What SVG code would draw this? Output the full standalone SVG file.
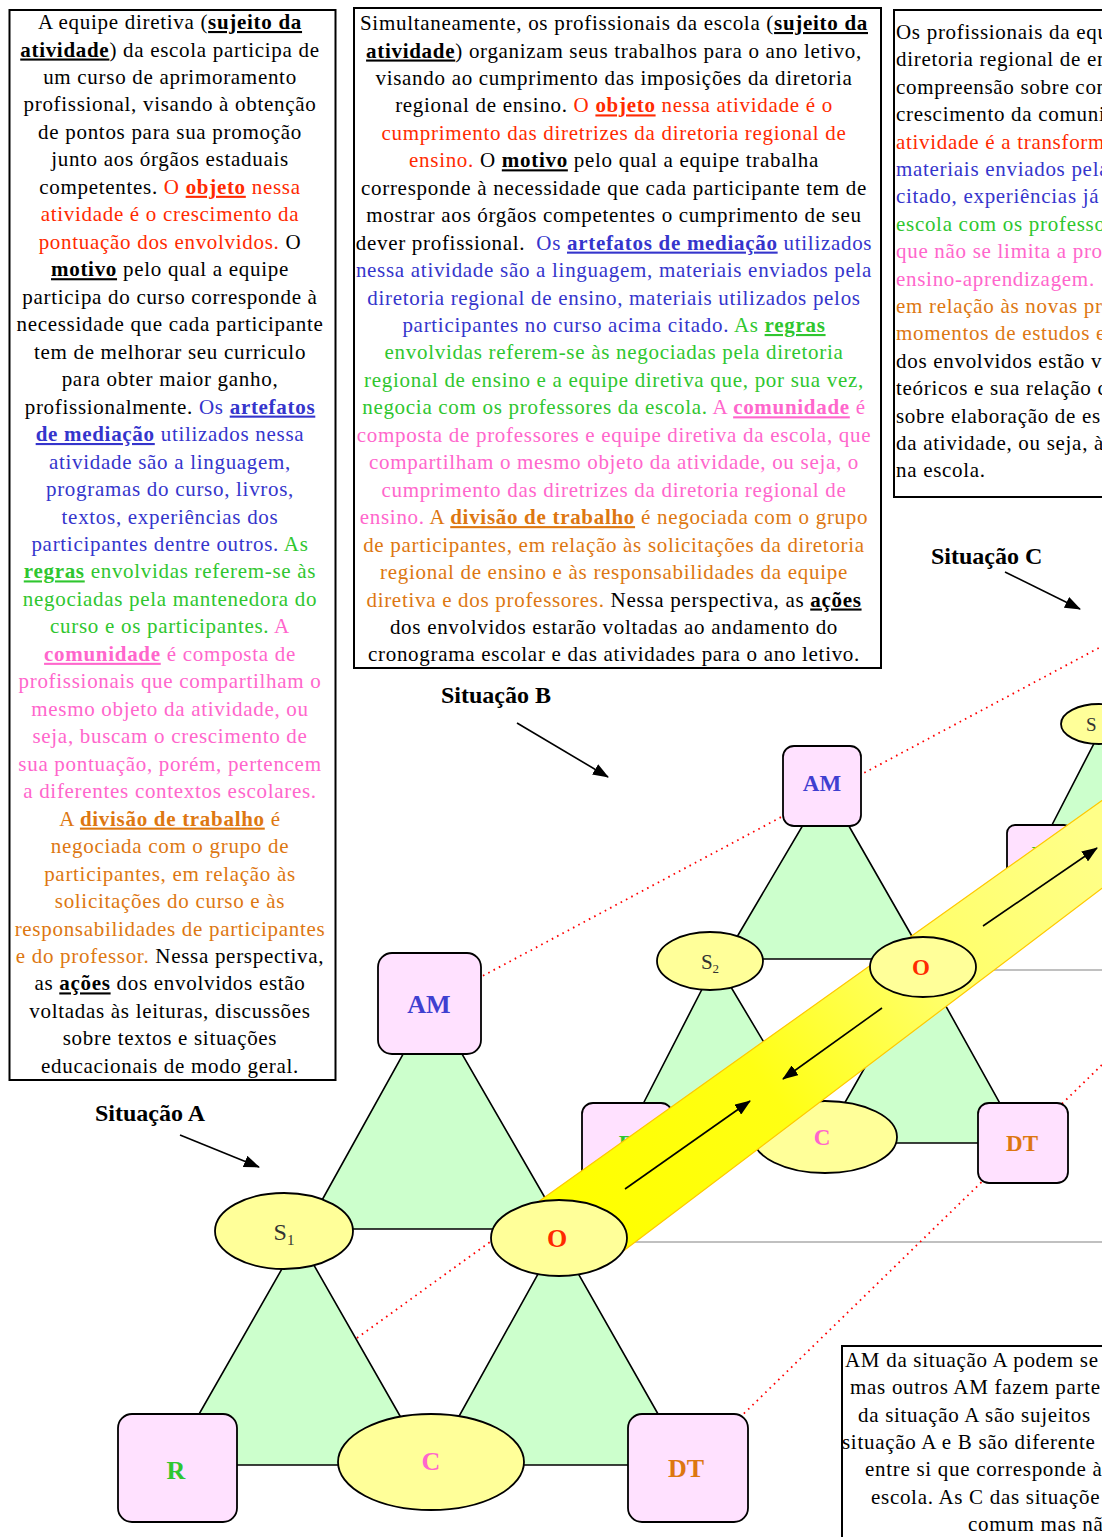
<svg xmlns="http://www.w3.org/2000/svg" width="1102" height="1537" viewBox="0 0 1102 1537">
<defs>
<style>
.t{font-family:"Liberation Serif","Times New Roman",serif;font-size:21px;letter-spacing:0.7px;fill:#000}
.m{text-anchor:middle}
.u{font-weight:bold;text-decoration:underline}
.r{fill:#FF2A00}.bl{fill:#3535CC}.g{fill:#2FC62F}.p{fill:#FF66CC}.o{fill:#DD7711}
.box{fill:#fff;stroke:#000;stroke-width:2}
.tri{fill:#CCFFCC;stroke:#000;stroke-width:1.6;stroke-linejoin:round}
.sq{fill:#FFE1FF;stroke:#000;stroke-width:1.8}
.el{fill:#FFFF99;stroke:#000;stroke-width:1.8}
.dot{stroke:#FF0000;stroke-width:1.8;stroke-dasharray:1.6 4.4;fill:none}
.gray{stroke:#C0C0C0;stroke-width:2}
.nl{font-family:"Liberation Serif","Times New Roman",serif;font-weight:bold;text-anchor:middle}
.sit{font-family:"Liberation Serif","Times New Roman",serif;font-weight:bold;font-size:24px;fill:#000}
.arr{stroke:#000;stroke-width:1.6;fill:none;marker-end:url(#ah)}
.band{fill:url(#bandg);stroke:#FFC800;stroke-width:1.2}
</style>
<marker id="ah" markerUnits="userSpaceOnUse" markerWidth="16" markerHeight="12" refX="15" refY="6" orient="auto" viewBox="0 0 16 12"><path d="M0,0 L16,6 L0,12 z" fill="#000"/></marker>
<linearGradient id="bandg" gradientUnits="userSpaceOnUse" x1="600" y1="1230" x2="1100" y2="850">
<stop offset="0" stop-color="#FFFF00"/><stop offset="0.35" stop-color="#FFFF14"/><stop offset="0.65" stop-color="#FFFF66"/><stop offset="1" stop-color="#FFFF88"/>
</linearGradient>
</defs>
<rect width="1102" height="1537" fill="#fff"/>

<g id="box-A">
<rect class="box" x="9.5" y="10" width="326" height="1070"/>
<text class="t m" x="170" y="29">A equipe diretiva (<tspan class="u">sujeito da</tspan></text>
<text class="t m" x="170" y="56.5"><tspan class="u">atividade</tspan>) da escola participa de</text>
<text class="t m" x="170" y="84">um curso de aprimoramento</text>
<text class="t m" x="170" y="111.4">profissional, visando à obtenção</text>
<text class="t m" x="170" y="138.9">de pontos para sua promoção</text>
<text class="t m" x="170" y="166.4">junto aos órgãos estaduais</text>
<text class="t m" x="170" y="193.8">competentes. <tspan class="r">O </tspan><tspan class="r u">objeto</tspan><tspan class="r"> nessa</tspan></text>
<text class="t m r" x="170" y="221.3">atividade é o crescimento da</text>
<text class="t m" x="170" y="248.8"><tspan class="r">pontuação dos envolvidos. </tspan>O</text>
<text class="t m" x="170" y="276.2"><tspan class="u">motivo</tspan> pelo qual a equipe</text>
<text class="t m" x="170" y="303.7">participa do curso corresponde à</text>
<text class="t m" x="170" y="331.2">necessidade que cada participante</text>
<text class="t m" x="170" y="358.6">tem de melhorar seu curriculo</text>
<text class="t m" x="170" y="386.1">para obter maior ganho,</text>
<text class="t m" x="170" y="413.6">profissionalmente. <tspan class="bl">Os </tspan><tspan class="bl u">artefatos</tspan></text>
<text class="t m bl" x="170" y="441"><tspan class="u">de mediação</tspan> utilizados nessa</text>
<text class="t m bl" x="170" y="468.5">atividade são a linguagem,</text>
<text class="t m bl" x="170" y="496">programas do curso, livros,</text>
<text class="t m bl" x="170" y="523.5">textos, experiências dos</text>
<text class="t m bl" x="170" y="550.9">participantes dentre outros. <tspan class="g">As</tspan></text>
<text class="t m g" x="170" y="578.4"><tspan class="u">regras</tspan> envolvidas referem-se às</text>
<text class="t m g" x="170" y="605.9">negociadas pela mantenedora do</text>
<text class="t m g" x="170" y="633.3">curso e os participantes. <tspan class="p">A</tspan></text>
<text class="t m p" x="170" y="660.8"><tspan class="u">comunidade</tspan> é composta de</text>
<text class="t m p" x="170" y="688.3">profissionais que compartilham o</text>
<text class="t m p" x="170" y="715.8">mesmo objeto da atividade, ou</text>
<text class="t m p" x="170" y="743.2">seja, buscam o crescimento de</text>
<text class="t m p" x="170" y="770.7">sua pontuação, porém, pertencem</text>
<text class="t m p" x="170" y="798.2">a diferentes contextos escolares.</text>
<text class="t m o" x="170" y="825.6">A <tspan class="u">divisão de trabalho</tspan> é</text>
<text class="t m o" x="170" y="853.1">negociada com o grupo de</text>
<text class="t m o" x="170" y="880.6">participantes, em relação às</text>
<text class="t m o" x="170" y="908">solicitações do curso e às</text>
<text class="t m o" x="170" y="935.5">responsabilidades de participantes</text>
<text class="t m" x="170" y="963"><tspan class="o">e do professor. </tspan>Nessa perspectiva,</text>
<text class="t m" x="170" y="990.4">as <tspan class="u">ações</tspan> dos envolvidos estão</text>
<text class="t m" x="170" y="1017.9">voltadas às leituras, discussões</text>
<text class="t m" x="170" y="1045.4">sobre textos e situações</text>
<text class="t m" x="170" y="1072.9">educacionais de modo geral.</text>
</g>

<g id="box-B">
<rect class="box" x="354" y="8" width="527" height="660"/>
<text class="t m" x="614" y="30">Simultaneamente, os profissionais da escola (<tspan class="u">sujeito da</tspan></text>
<text class="t m" x="614" y="57.5"><tspan class="u">atividade</tspan>) organizam seus trabalhos para o ano letivo,</text>
<text class="t m" x="614" y="84.9">visando ao cumprimento das imposições da diretoria</text>
<text class="t m" x="614" y="112.4">regional de ensino. <tspan class="r">O </tspan><tspan class="r u">objeto</tspan><tspan class="r"> nessa atividade é o</tspan></text>
<text class="t m r" x="614" y="139.8">cumprimento das diretrizes da diretoria regional de</text>
<text class="t m" x="614" y="167.3"><tspan class="r">ensino. </tspan>O <tspan class="u">motivo</tspan> pelo qual a equipe trabalha</text>
<text class="t m" x="614" y="194.7">corresponde à necessidade que cada participante tem de</text>
<text class="t m" x="614" y="222.2">mostrar aos órgãos competentes o cumprimento de seu</text>
<text class="t m" x="614" y="249.6">dever profissional. <tspan class="bl" dx="5">Os </tspan><tspan class="bl u">artefatos de mediação</tspan><tspan class="bl"> utilizados</tspan></text>
<text class="t m bl" x="614" y="277.1">nessa atividade são a linguagem, materiais enviados pela</text>
<text class="t m bl" x="614" y="304.5">diretoria regional de ensino, materiais utilizados pelos</text>
<text class="t m bl" x="614" y="332">participantes no curso acima citado. <tspan class="g">As </tspan><tspan class="g u">regras</tspan></text>
<text class="t m g" x="614" y="359.4">envolvidas referem-se às negociadas pela diretoria</text>
<text class="t m g" x="614" y="386.9">regional de ensino e a equipe diretiva que, por sua vez,</text>
<text class="t m g" x="614" y="414.3">negocia com os professores da escola. <tspan class="p">A </tspan><tspan class="p u">comunidade</tspan><tspan class="p"> é</tspan></text>
<text class="t m p" x="614" y="441.8">composta de professores e equipe diretiva da escola, que</text>
<text class="t m p" x="614" y="469.2">compartilham o mesmo objeto da atividade, ou seja, o</text>
<text class="t m p" x="614" y="496.7">cumprimento das diretrizes da diretoria regional de</text>
<text class="t m p" x="614" y="524.1">ensino. <tspan class="o">A </tspan><tspan class="o u">divisão de trabalho</tspan><tspan class="o"> é negociada com o grupo</tspan></text>
<text class="t m o" x="614" y="551.6">de participantes, em relação às solicitações da diretoria</text>
<text class="t m o" x="614" y="579">regional de ensino e às responsabilidades da equipe</text>
<text class="t m" x="614" y="606.5"><tspan class="o">diretiva e dos professores. </tspan>Nessa perspectiva, as <tspan class="u">ações</tspan></text>
<text class="t m" x="614" y="633.9">dos envolvidos estarão voltadas ao andamento do</text>
<text class="t m" x="614" y="661.4">cronograma escolar e das atividades para o ano letivo.</text>
</g>

<g id="box-C">
<rect class="box" x="894" y="10" width="230" height="487"/>
<text class="t" x="896" y="39">Os profissionais da equ</text>
<text class="t" x="896" y="66.4">diretoria regional de en</text>
<text class="t" x="896" y="93.8">compreensão sobre con</text>
<text class="t" x="896" y="121.2">crescimento da comuni</text>
<text class="t r" x="896" y="148.6">atividade é a transform</text>
<text class="t bl" x="896" y="176">materiais enviados pela</text>
<text class="t bl" x="896" y="203.4">citado, experiências já</text>
<text class="t g" x="896" y="230.8">escola com os professo</text>
<text class="t p" x="896" y="258.2">que não se limita a pro</text>
<text class="t p" x="896" y="285.6">ensino-aprendizagem.</text>
<text class="t o" x="896" y="313">em relação às novas pr</text>
<text class="t o" x="896" y="340.4">momentos de estudos e</text>
<text class="t" x="896" y="367.8">dos envolvidos estão v</text>
<text class="t" x="896" y="395.2">teóricos e sua relação c</text>
<text class="t" x="896" y="422.6">sobre elaboração de es</text>
<text class="t" x="896" y="450">da atividade, ou seja, à</text>
<text class="t" x="896" y="477.4">na escola.</text>
</g>

<g id="box-D">
<rect class="box" x="842" y="1346" width="280" height="210"/>
<text class="t" x="845" y="1367">AM da situação A podem se</text>
<text class="t" x="850" y="1394.3">mas outros AM fazem parte</text>
<text class="t" x="858" y="1421.6">da situação A são sujeitos</text>
<text class="t" x="842" y="1448.9">situação A e B são diferente</text>
<text class="t" x="865" y="1476.2">entre si que corresponde à</text>
<text class="t" x="871" y="1503.5">escola. As C das situaçõe</text>
<text class="t" x="968" y="1530.8">comum mas nã</text>
</g>

<g id="situation-labels">
<text class="sit" x="95" y="1121">Situação A</text>
<text class="sit" x="441" y="703">Situação B</text>
<text class="sit" x="931" y="564">Situação C</text>
</g>

<g id="connectors">
<line class="gray" x1="627" y1="1242" x2="1102" y2="1242"/>
<line class="gray" x1="976" y1="970" x2="1102" y2="970"/>
<line class="dot" x1="430" y1="1004" x2="1110" y2="642"/>
<polyline class="dot" points="177,1468 627,1143 1039,854"/>
<line class="dot" x1="688" y1="1468" x2="1110" y2="1057"/>
<line class="arr" x1="180" y1="1135" x2="259" y2="1167"/>
<line class="arr" x1="517" y1="723" x2="608" y2="777"/>
<line class="arr" x1="1005" y1="572" x2="1080" y2="609"/>
<polygon class="tri" points="432,1002 306,1229 563,1229"/>
<polygon class="tri" points="299,1239 170,1465 428,1465"/>
<polygon class="tri" points="558,1238 432,1465 687,1465"/>
<polygon class="tri" points="826,786 724,959 925,959"/>
<polygon class="tri" points="716,962 623,1143 824,1143"/>
<polygon class="tri" points="923,965 822,1143 1022,1143"/>
<polygon class="tri" points="1183,597 1109,721 1254,721"/>
<polygon class="tri" points="1104,724 1037,854 1181,854"/>
</g>

<g id="node-A-AM"><rect class="sq" x="378" y="953" width="103" height="101" rx="14"/><text class="nl" x="429" y="1013" font-size="26" fill="#3F3FD0">AM</text></g>
<g id="node-A-S1"><ellipse class="el" cx="284" cy="1231" rx="69" ry="38"/><text x="284" y="1240" font-family="Liberation Serif, serif" font-size="24" fill="#333" text-anchor="middle">S<tspan font-size="15" dy="5">1</tspan></text></g>
<g id="node-A-R"><rect class="sq" x="118" y="1414" width="119" height="108" rx="14"/><text class="nl" x="176" y="1479" font-size="26" fill="#2FC62F">R</text></g>
<g id="node-A-C"><ellipse class="el" cx="431" cy="1462" rx="93" ry="48"/><text class="nl" x="431" y="1470" font-size="26" fill="#FF66CC">C</text></g>
<g id="node-A-DT"><rect class="sq" x="628" y="1414" width="120" height="108" rx="14"/><text class="nl" x="686" y="1477" font-size="26" fill="#DD7711">DT</text></g>

<g id="node-B-AM"><rect class="sq" x="783" y="746" width="78" height="80" rx="11"/><text class="nl" x="822" y="791" font-size="23" fill="#3F3FD0">AM</text></g>
<g id="node-B-S2"><ellipse class="el" cx="710" cy="961" rx="53" ry="29"/><text x="710" y="969" font-family="Liberation Serif, serif" font-size="21" fill="#333" text-anchor="middle">S<tspan font-size="13" dy="4">2</tspan></text></g>
<g id="node-B-R"><rect class="sq" x="582" y="1103" width="90" height="80" rx="11"/><text class="nl" x="627" y="1151" font-size="23" fill="#2FC62F">R</text></g>
<g id="node-B-C"><ellipse class="el" cx="825" cy="1137" rx="72" ry="36"/><text class="nl" x="822" y="1145" font-size="23" fill="#FF66CC">C</text></g>
<g id="node-B-DT"><rect class="sq" x="978" y="1103" width="90" height="80" rx="11"/><text class="nl" x="1022" y="1151" font-size="23" fill="#DD7711">DT</text></g>

<g id="node-C-S"><ellipse class="el" cx="1099" cy="724" rx="38" ry="20"/><text x="1086" y="731" font-family="Liberation Serif, serif" font-size="19" fill="#333">S</text></g>
<g id="node-C-R"><rect class="sq" x="1007" y="825" width="65" height="58" rx="8"/><text class="nl" x="1039" y="861" font-size="20" fill="#2FC62F">R</text></g>

<g id="object-band">
<polygon class="band" points="538,1202 1200,730.7 1200,814 622,1252"/>
<line class="arr" x1="625" y1="1189" x2="750" y2="1101"/>
<line class="arr" x1="882" y1="1008" x2="783" y2="1079"/>
<line class="arr" x1="983" y1="926" x2="1097" y2="848"/>
</g>

<g id="node-A-O"><ellipse class="el" cx="559" cy="1238" rx="68" ry="38"/><text class="nl" x="557" y="1247" font-size="26" fill="#FF2A00">O</text></g>
<g id="node-B-O"><ellipse class="el" cx="923" cy="967" rx="53" ry="30"/><text class="nl" x="921" y="975" font-size="23" fill="#FF2A00">O</text></g>
</svg>
